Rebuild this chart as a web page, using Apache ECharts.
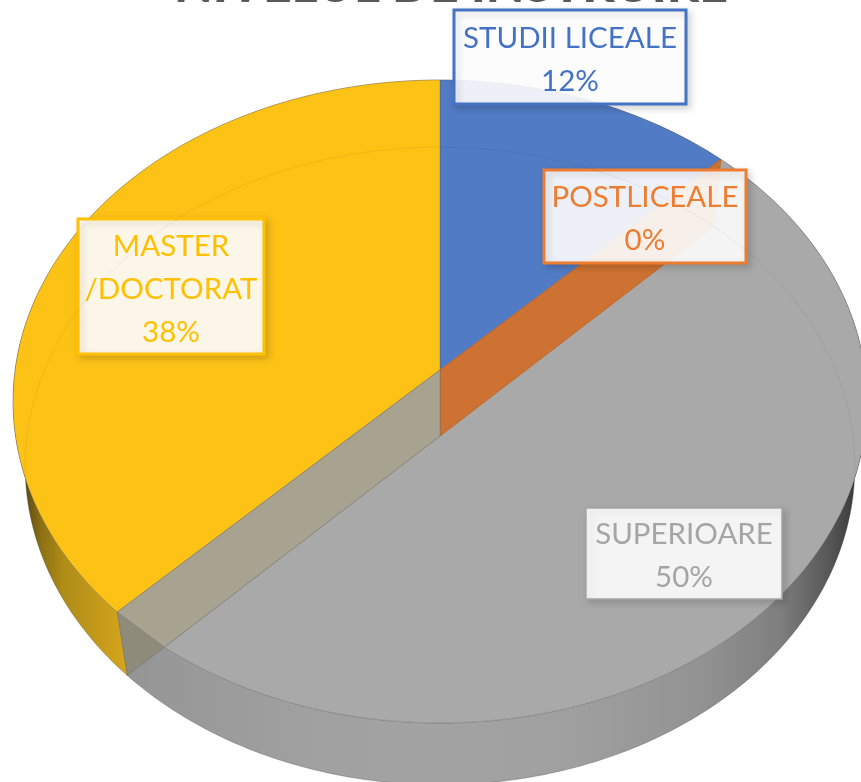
<!DOCTYPE html>
<html><head><meta charset="utf-8">
<style>html,body{margin:0;padding:0;background:#fff}#c{width:861px;height:782px}</style>
<script src="https://cdn.jsdelivr.net/npm/echarts@6/dist/echarts.min.js"></script>
</head><body><div id="c"></div>
<script>
const categories = ['STUDII LICEALE', 'POSTLICEALE', 'SUPERIOARE', 'MASTER /DOCTORAT'];
const values = [12.49, 0, 50, 37.51];
const titleText = 'NIVELUL DE INSTRUIRE';

const topDisc = {cx: 440, cy: 370, A: 424.9, B: 318.4, e: 0.098};
const botDisc = {cx: 440, cy: 436, A: 413, B: 316, e: 0.094};
const fills = ['#517bc4', '#cd7233', '#a9a9a9', '#fcc216'];
const labelColors = ['#4472c4', '#ed7d31', '#a5a5a5', '#ffc000'];
const labelBoxes = [
  {x: 454, y: 10, w: 232, h: 94, lw: 3, lines: ['STUDII LICEALE']},
  {x: 544, y: 170, w: 202, h: 93, lw: 3, lines: ['POSTLICEALE']},
  {x: 586, y: 508, w: 196, h: 91, lw: 1.5, lines: ['SUPERIOARE']},
  {x: 78, y: 219, w: 186, h: 135, lw: 3, lines: ['MASTER', '/DOCTORAT']}
];
const total = values.reduce((a, b) => a + b, 0);
const starts = [];
values.reduce((acc, v, i) => { starts[i] = acc; return acc + v; }, 0);

function project(d, deg) {
  const t = deg * Math.PI / 180;
  const s = Math.sin(t), c = Math.cos(t), w = 1 + d.e * c;
  return [d.cx + d.A * s / w, d.cy - d.B * c / w];
}
function insideDisc(d, p) {
  const dy = d.cy - p[1], c = dy / (d.B - d.e * dy), w = 1 + d.e * c, s = (p[0] - d.cx) * w / d.A;
  return s * s + c * c <= 1;
}
function arc(d, a0, a1) {
  const n = Math.max(2, Math.ceil(Math.abs(a1 - a0))), out = [];
  for (let i = 0; i <= n; i++) out.push(project(d, a0 + (a1 - a0) * i / n));
  return out;
}
const grad = (x0, x1, stops) => new echarts.graphic.LinearGradient(x0, 0, x1, 0, stops, true);
const grayWall = grad(120, 861, [
  {offset: 0, color: '#959595'}, {offset: .25, color: '#a0a0a0'}, {offset: .42, color: '#a3a3a3'},
  {offset: .6, color: '#a0a0a0'}, {offset: .78, color: '#939393'}, {offset: .89, color: '#7f7f7f'},
  {offset: .96, color: '#555555'}, {offset: 1, color: '#333333'}]);
const yellowWall = grad(20, 127, [
  {offset: 0, color: '#4d3f12'}, {offset: .2, color: '#8c7012'}, {offset: .4, color: '#ae8c17'}, {offset: 1, color: '#d6a51c'}]);

function poly(points, style, z2) {
  return {type: 'polygon', shape: {points}, style, z2, silent: true};
}
function renderSlice(params, api) {
  const i = params.dataIndex, v = api.value(0);
  const a0 = starts[i] / total * 360, a1 = (starts[i] + v) / total * 360;
  const children = [];
  const topApex = [topDisc.cx, topDisc.cy], botApex = [botDisc.cx, botDisc.cy];
  if (v > 0) {
    const wallFill = i === 3 ? yellowWall : i === 2 ? grayWall : fills[i];
    children.push(poly(arc(topDisc, a0, a1).concat(arc(botDisc, a1, a0)),
      {fill: wallFill, stroke: 'rgba(90,90,90,0.3)', lineWidth: 1}, 1));
    children.push(poly([topApex].concat(arc(topDisc, a0, a1)),
      {fill: fills[i], stroke: 'rgba(80,80,80,0.28)', lineWidth: 1}, 2));
  } else {
    // zero-size slice: only its radial wall shows
    const p = project(topDisc, a0), q = project(botDisc, a0);
    children.push(poly([topApex, p, q, botApex], {fill: fills[i], stroke: '#c0682a', lineWidth: 1}, 3));
  }
  if (i === 2) {
    // translucent end wall of the big slice, seen over the neighbour
    const p = project(topDisc, a1), q = project(botDisc, a1);
    let lo = 0, hi = 1;
    for (let k = 0; k < 30; k++) {
      const m = (lo + hi) / 2, t = [botApex[0] + (q[0] - botApex[0]) * m, botApex[1] + (q[1] - botApex[1]) * m];
      if (insideDisc(topDisc, t)) lo = m; else hi = m;
    }
    const cross = [botApex[0] + (q[0] - botApex[0]) * lo, botApex[1] + (q[1] - botApex[1]) * lo];
    children.push(poly([topApex, botApex, q, p], {fill: '#8f8b7b', stroke: 'rgba(110,110,110,.5)', lineWidth: 1}, 3));
    children.push(poly([topApex, botApex, cross, p], {fill: '#a8a290', stroke: 'rgba(120,120,120,.4)', lineWidth: 1}, 3));
  }
  const b = labelBoxes[i], col = labelColors[i];
  children.push({type: 'rect', shape: {x: b.x, y: b.y, width: b.w, height: b.h}, z2: 10, silent: true,
    style: {fill: 'rgba(255,255,255,0.9)', stroke: col, lineWidth: b.lw,
      shadowColor: 'rgba(0,0,0,0.16)', shadowBlur: 7, shadowOffsetX: 3, shadowOffsetY: 3}});
  const lines = b.lines.concat([Math.round(v / total * 100) + '%']);
  const lh = 43, y0 = b.y + b.h / 2 - lh * (lines.length - 1) / 2 + 2.5;
  lines.forEach((t, k) => children.push({type: 'text', z2: 11, silent: true,
    style: {text: t, x: b.x + b.w / 2, y: y0 + k * lh, fill: col, font: '400 29.5px Lato', align: 'center', verticalAlign: 'middle'}}));
  return {type: 'group', children};
}
function renderRim() {
  return {type: 'group', children: [{type: 'polygon', shape: {points: arc(botDisc, 0, 360)}, silent: true, z2: 4,
    style: {fill: 'none', stroke: 'rgba(0,0,0,0.055)', lineWidth: 1}}]};
}
const chart = echarts.init(document.getElementById('c'), null, {renderer: 'canvas'});
chart.setOption({
  animation: false,
  backgroundColor: '#fff',
  title: {text: titleText, left: 446, textAlign: 'center', top: -44,
    textStyle: {fontFamily: 'Lato', fontWeight: 900, fontSize: 50, color: '#595959'}},
  series: [
    {type: 'custom', coordinateSystem: 'none', z: 2, clip: false, renderItem: renderSlice,
      data: values.map((v, i) => ({name: categories[i], value: [v]}))},
    {type: 'custom', coordinateSystem: 'none', z: 3, clip: false, renderItem: renderRim, data: [[1]]}
  ]
});
</script></body></html>
